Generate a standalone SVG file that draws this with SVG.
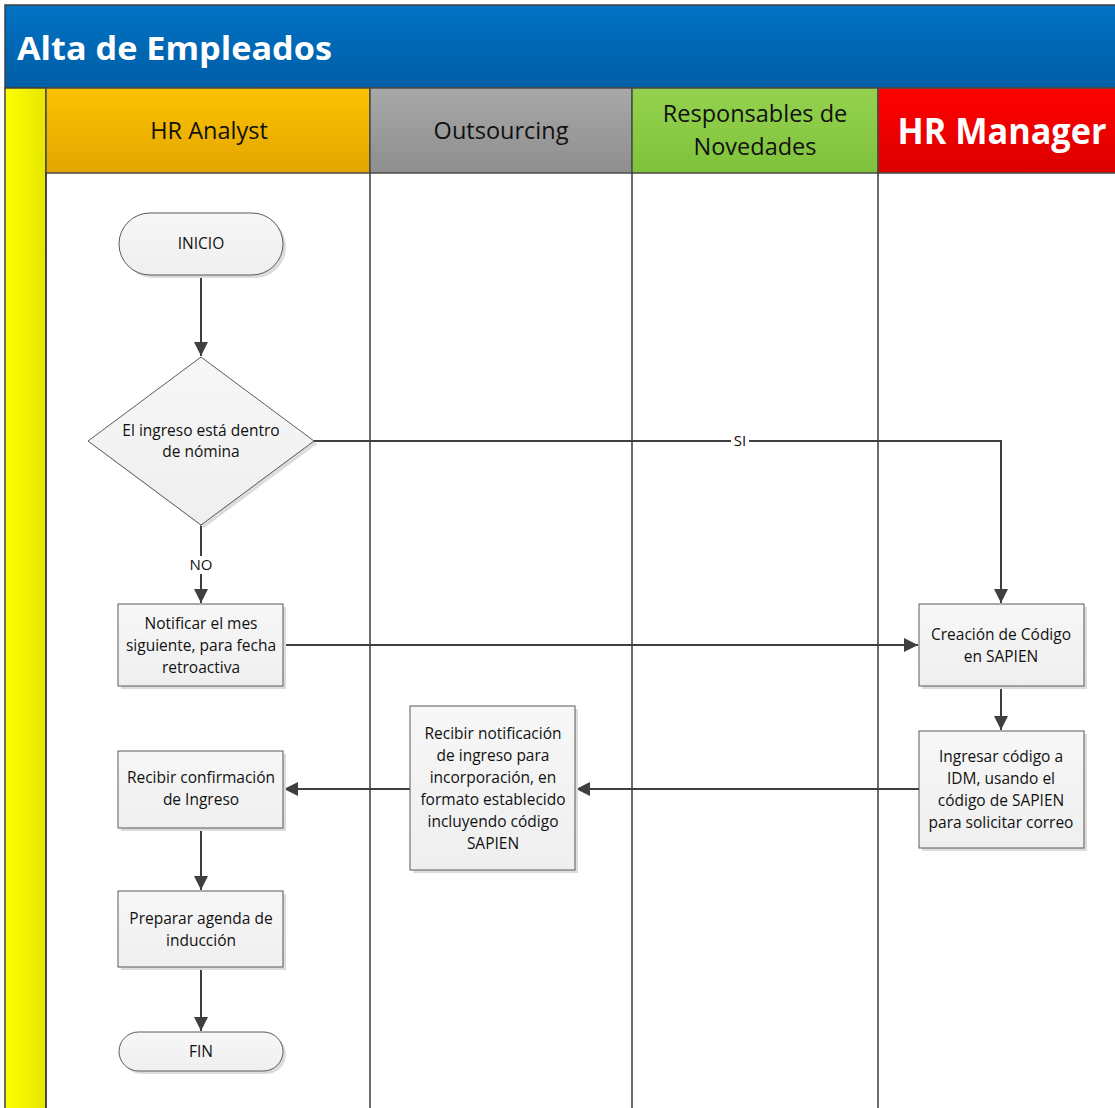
<svg xmlns="http://www.w3.org/2000/svg" width="1115" height="1108" viewBox="0 0 1115 1108">
  <defs>
    <linearGradient id="gTitle" x1="0" y1="0" x2="0" y2="1">
      <stop offset="0" stop-color="#0072c4"/>
      <stop offset="1" stop-color="#005ea6"/>
    </linearGradient>
    <linearGradient id="gAnalyst" x1="0" y1="0" x2="0" y2="1">
      <stop offset="0" stop-color="#fcc200"/>
      <stop offset="1" stop-color="#e2a600"/>
    </linearGradient>
    <linearGradient id="gOut" x1="0" y1="0" x2="0" y2="1">
      <stop offset="0" stop-color="#a8a8a8"/>
      <stop offset="1" stop-color="#8e8e8e"/>
    </linearGradient>
    <linearGradient id="gResp" x1="0" y1="0" x2="0" y2="1">
      <stop offset="0" stop-color="#94d24e"/>
      <stop offset="1" stop-color="#80c23c"/>
    </linearGradient>
    <linearGradient id="gMgr" x1="0" y1="0" x2="0" y2="1">
      <stop offset="0" stop-color="#ff0000"/>
      <stop offset="1" stop-color="#dc0000"/>
    </linearGradient>
    <linearGradient id="gStrip" x1="0" y1="0" x2="1" y2="0">
      <stop offset="0" stop-color="#ffff00"/>
      <stop offset="1" stop-color="#e6e600"/>
    </linearGradient>
    <linearGradient id="gBox" x1="0" y1="0" x2="0" y2="1">
      <stop offset="0" stop-color="#f7f7f7"/>
      <stop offset="1" stop-color="#efefef"/>
    </linearGradient>
    <marker id="arrow" viewBox="0 0 10 10" refX="10" refY="5" markerWidth="7" markerHeight="7" orient="auto" markerUnits="strokeWidth">
      <path d="M0,0 L10,5 L0,10 z" fill="#3f3f3f"/>
    </marker>
  </defs>
  <style>
    .lane { stroke: #4a4a4a; stroke-width: 1.5; }
    .laneline { stroke: #3a3a3a; stroke-width: 1.5; fill: none; }
    .hdr { font-family: "Open Sans", "Liberation Sans", sans-serif; font-size: 23.5px; fill: #111; text-anchor: middle; }
    .box { fill: url(#gBox); stroke: #5a5a5a; stroke-width: 1; }
    .shadow { fill: #dcdcdc; }
    .txt { font-family: "Open Sans", "Liberation Sans", sans-serif; font-size: 15.5px; fill: #111; text-anchor: middle; }
    .conn { stroke: #3f3f3f; stroke-width: 2; fill: none; }
    .lbl { font-family: "Open Sans", "Liberation Sans", sans-serif; font-size: 15px; fill: #111; text-anchor: middle; }
  </style>

  <rect x="0" y="0" width="1115" height="1108" fill="#ffffff"/>

  <!-- pool title -->
  <g id="pool-title">
    <rect x="5" y="5" width="1115" height="83" fill="url(#gTitle)" stroke="#404040" stroke-width="1.5"/>
    <text x="17" y="60" font-family="Open Sans, Liberation Sans, sans-serif" font-weight="bold" font-size="33" fill="#ffffff" textLength="315" lengthAdjust="spacingAndGlyphs">Alta de Empleados</text>
  </g>

  <!-- side strip -->
  <rect x="5" y="88" width="41" height="1025" fill="url(#gStrip)" stroke="#404040" stroke-width="1.5"/>

  <!-- lane headers -->
  <g id="lane-hr-analyst">
    <rect class="lane" x="46" y="88" width="324" height="85" fill="url(#gAnalyst)"/>
    <text class="hdr" x="209" y="139">HR Analyst</text>
  </g>
  <g id="lane-outsourcing">
    <rect class="lane" x="370" y="88" width="262" height="85" fill="url(#gOut)"/>
    <text class="hdr" x="501" y="139">Outsourcing</text>
  </g>
  <g id="lane-responsables">
    <rect class="lane" x="632" y="88" width="246" height="85" fill="url(#gResp)"/>
    <text class="hdr" x="755" y="122">Responsables de</text>
    <text class="hdr" x="755" y="155">Novedades</text>
  </g>
  <g id="lane-hr-manager">
    <rect class="lane" x="878" y="88" width="245" height="85" fill="url(#gMgr)"/>
    <text x="1002" y="144" font-family="Open Sans, Liberation Sans, sans-serif" font-weight="bold" font-size="35" fill="#ffffff" text-anchor="middle" textLength="209" lengthAdjust="spacingAndGlyphs">HR Manager</text>
  </g>

  <!-- lane separators -->
  <g id="lane-lines">
    <line class="laneline" x1="46" y1="173" x2="46" y2="1108"/>
    <line class="laneline" x1="370" y1="173" x2="370" y2="1108"/>
    <line class="laneline" x1="632" y1="173" x2="632" y2="1108"/>
    <line class="laneline" x1="878" y1="173" x2="878" y2="1108"/>
  </g>

  <!-- connectors -->
  <g id="connectors">
    <line class="conn" x1="201" y1="276" x2="201" y2="356" marker-end="url(#arrow)"/>
    <polyline class="conn" points="314,441 1001,441 1001,603" marker-end="url(#arrow)"/>
    <line class="conn" x1="201" y1="525" x2="201" y2="603" marker-end="url(#arrow)"/>
    <line class="conn" x1="283" y1="645" x2="918" y2="645" marker-end="url(#arrow)"/>
    <line class="conn" x1="1001" y1="686" x2="1001" y2="730" marker-end="url(#arrow)"/>
    <line class="conn" x1="919" y1="789" x2="576" y2="789" marker-end="url(#arrow)"/>
    <line class="conn" x1="410" y1="789" x2="284" y2="789" marker-end="url(#arrow)"/>
    <line class="conn" x1="201" y1="828" x2="201" y2="890" marker-end="url(#arrow)"/>
    <line class="conn" x1="201" y1="968" x2="201" y2="1031" marker-end="url(#arrow)"/>
    <rect x="731" y="433" width="18" height="16" fill="#ffffff"/>
    <text class="lbl" x="740" y="446">SI</text>
    <rect x="187" y="556" width="28" height="18" fill="#ffffff"/>
    <text class="lbl" x="201" y="570">NO</text>
  </g>

  <!-- nodes -->
  <g id="inicio">
    <rect class="shadow" x="122" y="216" width="164" height="62" rx="31"/>
    <rect class="box" x="119" y="213" width="164" height="62" rx="31"/>
    <text class="txt" x="201" y="249">INICIO</text>
  </g>

  <g id="decision">
    <polygon class="shadow" points="204,360 317,444 204,528 91,444"/>
    <polygon class="box" points="201,357 314,441 201,525 88,441"/>
    <text class="txt" x="201" y="436">El ingreso está dentro</text>
    <text class="txt" x="201" y="457">de nómina</text>
  </g>

  <g id="notificar">
    <rect class="shadow" x="121" y="607" width="165" height="82"/>
    <rect class="box" x="118" y="604" width="165" height="82"/>
    <text class="txt" x="201" y="629">Notificar el mes</text>
    <text class="txt" x="201" y="651">siguiente, para fecha</text>
    <text class="txt" x="201" y="673">retroactiva</text>
  </g>

  <g id="creacion">
    <rect class="shadow" x="922" y="607" width="165" height="82"/>
    <rect class="box" x="919" y="604" width="165" height="82"/>
    <text class="txt" x="1001" y="640">Creación de Código</text>
    <text class="txt" x="1001" y="662">en SAPIEN</text>
  </g>

  <g id="ingresar">
    <rect class="shadow" x="922" y="734" width="165" height="117"/>
    <rect class="box" x="919" y="731" width="165" height="117"/>
    <text class="txt" x="1001" y="762">Ingresar código a</text>
    <text class="txt" x="1001" y="784">IDM, usando el</text>
    <text class="txt" x="1001" y="806">código de SAPIEN</text>
    <text class="txt" x="1001" y="828">para solicitar correo</text>
  </g>

  <g id="recibir-notificacion">
    <rect class="shadow" x="413" y="709" width="165" height="164"/>
    <rect class="box" x="410" y="706" width="165" height="164"/>
    <text class="txt" x="493" y="739">Recibir notificación</text>
    <text class="txt" x="493" y="761">de ingreso para</text>
    <text class="txt" x="493" y="783">incorporación, en</text>
    <text class="txt" x="493" y="805">formato establecido</text>
    <text class="txt" x="493" y="827">incluyendo código</text>
    <text class="txt" x="493" y="849">SAPIEN</text>
  </g>

  <g id="recibir-confirmacion">
    <rect class="shadow" x="121" y="754" width="165" height="77"/>
    <rect class="box" x="118" y="751" width="165" height="77"/>
    <text class="txt" x="201" y="783">Recibir confirmación</text>
    <text class="txt" x="201" y="805">de Ingreso</text>
  </g>

  <g id="preparar">
    <rect class="shadow" x="121" y="894" width="165" height="76"/>
    <rect class="box" x="118" y="891" width="165" height="76"/>
    <text class="txt" x="201" y="924">Preparar agenda de</text>
    <text class="txt" x="201" y="946">inducción</text>
  </g>

  <g id="fin">
    <rect class="shadow" x="122" y="1035" width="164" height="39" rx="19.5"/>
    <rect class="box" x="119" y="1032" width="164" height="39" rx="19.5"/>
    <text class="txt" x="201" y="1057">FIN</text>
  </g>
</svg>
